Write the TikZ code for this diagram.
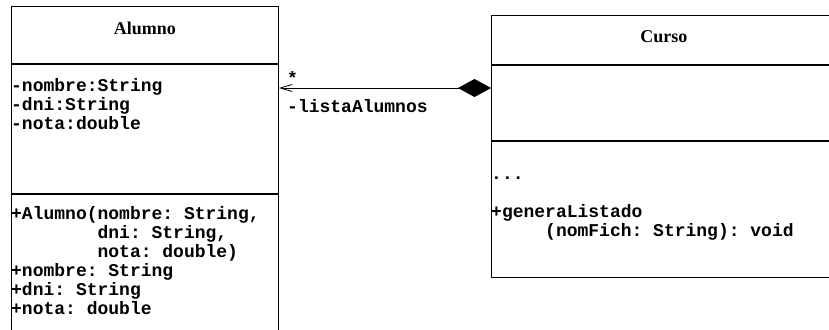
\documentclass[tikz,border=0pt]{standalone}
\usepackage{fontspec}
\setmainfont{Liberation Serif}
\setmonofont{Liberation Mono}
\usetikzlibrary{arrows.meta,calc}
\begin{document}
\begin{tikzpicture}[x=1pt,y=-1pt,
  comp/.style={draw, line width=0.8pt, rectangle, inner sep=0pt, anchor=north west},
  classname/.style={font=\fontsize{18}{19}\selectfont\bfseries, inner sep=0pt, anchor=base},
  % multi-line member lists are anchored at the baseline of their last line
  member/.style={font=\fontsize{18}{19}\selectfont\ttfamily\bfseries, inner sep=0pt,
                 anchor=base west, align=left},
  assoc/.style={line width=0.8pt,
                {Diamond[length=33pt,width=18pt,fill=black]}-{Straight Barb[length=12pt,width=7pt,line width=0.8pt]}},
]
\useasboundingbox (0,0) rectangle (829,329);
\clip (0,0) rectangle (829,329);

% class Alumno: name, attribute and operation compartments
\node[comp, minimum width=267pt, minimum height=57pt]  (aHead) at (11,6) {};
\node[comp, minimum width=267pt, minimum height=129pt] (aAttr) at (aHead.south west) {};
\node[comp, minimum width=267pt, minimum height=160pt] (aOps)  at (aAttr.south west) {};
\node[classname] (aName) at ($(aHead.north)+(0,29)$) {Alumno};
\node[member] (aFields) at ($(aAttr.north west)+(0,66)$)
  {-nombre:String\\-dni:String\\-nota:double};
\node[member] (aMethods) at ($(aOps.north west)+(0,121)$)
  {+Alumno(nombre: String,\\
   \hphantom{+Alumno(}dni: String,\\
   \hphantom{+Alumno(}nota: double)\\
   +nombre: String\\
   +dni: String\\
   +nota: double};

% class Curso
\node[comp, minimum width=345pt, minimum height=49pt]  (cHead) at (491,15) {};
\node[comp, minimum width=345pt, minimum height=75pt]  (cAttr) at (cHead.south west) {};
\node[comp, minimum width=345pt, minimum height=136pt] (cOps)  at (cAttr.south west) {};
\node[classname] (cName) at ($(cHead.north)+(0,28)$) {Curso};
\node[member] (cMethods) at ($(cOps.north west)+(0,96)$)
  {...\\[19pt]
   +generaListado\\
   \hphantom{+gene}(nomFich: String): void};

% composition Curso <>-- Alumno
\coordinate (assocY) at (0,88);
\draw[assoc] (cAttr.west |- assocY) -- (aAttr.east |- assocY);
\node[member] (mult) at (287,84) {*};
\node[member] (role) at (287,112) {-listaAlumnos};
\end{tikzpicture}
\end{document}
